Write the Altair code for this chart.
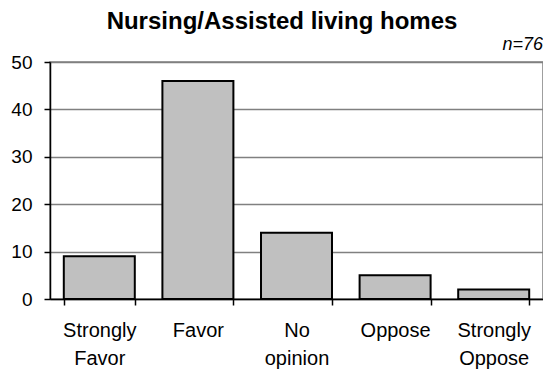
import altair as alt
import pandas as pd

categories = ["Strongly Favor", "Favor", "No opinion", "Oppose", "Strongly Oppose"]
values = [9, 46, 14, 5, 2]
y_ticks = [0, 10, 20, 30, 40, 50]
title_text = "Nursing/Assisted living homes"
n_label = "n=76"

df = pd.DataFrame({"cat": categories, "val": values})

FONT = "Liberation Sans"
W, H = 493, 237

bars = alt.Chart(df).mark_bar(
    fill="#c0c0c0", stroke="#000000", strokeWidth=2
).encode(
    x=alt.X("cat:N", sort=categories, title=None,
            scale=alt.Scale(paddingInner=0.28, paddingOuter=0.14),
            axis=alt.Axis(labelAngle=0, tickBand="extent", labelExpr="split(datum.label, ' ')",
                          labelFont=FONT, labelFontSize=20, labelColor="#000000",
                          labelLineHeight=28, labelPadding=15,
                          domainColor="#000000", domainWidth=1.5,
                          tickColor="#000000", tickSize=6, tickWidth=1.5, grid=False)),
    y=alt.Y("val:Q", title=None,
            scale=alt.Scale(domain=[0, 50], nice=False),
            axis=alt.Axis(values=y_ticks, labelFont=FONT, labelFontSize=19, labelColor="#000000",
                          labelPadding=12,
                          domainColor="#000000", domainWidth=1.5, tickColor="#000000",
                          tickSize=6, tickWidth=1.5,
                          grid=True, gridColor="#808080", gridWidth=1.5))
)

ntext = alt.Chart(pd.DataFrame({"t": [n_label]})).mark_text(
    font=FONT, fontSize=18, fontStyle="italic", align="right", baseline="alphabetic",
    color="#000000"
).encode(x=alt.value(W), y=alt.value(-12), text="t:N")

ttext = alt.Chart(pd.DataFrame({"t": [title_text]})).mark_text(
    font=FONT, fontSize=24, fontWeight="bold", align="center", baseline="alphabetic",
    color="#000000"
).encode(x=alt.value(232), y=alt.value(-33), text="t:N")

chart = alt.layer(bars, ntext, ttext).properties(
    width=W, height=H,
    autosize=alt.AutoSizeParams(type="none"),
    padding={"left": 42, "top": 54, "right": 0, "bottom": 70},
).configure_view(stroke="#808080", strokeWidth=1.5)

chart.save("out.html", embed_options={"renderer": "svg", "actions": False})
